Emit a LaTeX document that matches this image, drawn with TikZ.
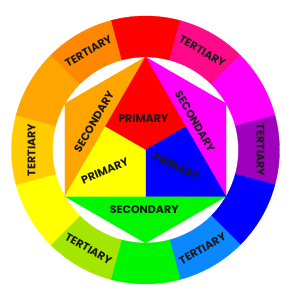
\documentclass[tikz,border=0pt]{standalone}
\usepackage{fontspec}
\usetikzlibrary{calc}
\setmainfont{Poppins}
\definecolor{cRed}{HTML}{FF0000}
\definecolor{cPink}{HTML}{FF0A88}
\definecolor{cMagenta}{HTML}{FF00FF}
\definecolor{cPurple}{HTML}{9E00BC}
\definecolor{cBlue}{HTML}{0000FF}
\definecolor{cAzure}{HTML}{0A88FF}
\definecolor{cGreen}{HTML}{00F500}
\definecolor{cLime}{HTML}{A5E600}
\definecolor{cYellow}{HTML}{FFFF00}
\definecolor{cGold}{HTML}{FFCC00}
\definecolor{cOrange}{HTML}{FFA500}
\definecolor{cRedOrange}{HTML}{FF8800}
\definecolor{cText}{HTML}{1A1A1A}
\tikzset{
  lbl/.style={text=cText, font=\fontsize{11}{13}\selectfont\bfseries, inner sep=0pt},
  seg/.style={fill=#1, draw=#1, line width=0.3pt},
}
\newcommand{\ringseg}[2]{%
  \fill[seg=#2] (#1-15:93) arc[start angle=#1-15, end angle=#1+15, radius=93]
    -- (#1+15:134) arc[start angle=#1+15, end angle=#1-15, radius=134] -- cycle;}
\begin{document}
\begin{tikzpicture}[x=1pt,y=1pt]
\useasboundingbox (-145.5,-146) rectangle (146.5,150);
\fill[white] (-145.5,-146) rectangle (146.5,150);
% ring
\ringseg{90}{cRed}
\ringseg{60}{cPink}
\ringseg{30}{cMagenta}
\ringseg{0}{cPurple}
\ringseg{-30}{cBlue}
\ringseg{-60}{cAzure}
\ringseg{-90}{cGreen}
\ringseg{-120}{cLime}
\ringseg{-150}{cYellow}
\ringseg{180}{cGold}
\ringseg{150}{cOrange}
\ringseg{120}{cRedOrange}
% hexagon points
\coordinate (T) at (90:93);
\coordinate (V30) at (30:93);
\coordinate (BR) at (-30:93);
\coordinate (VB) at (-90:93);
\coordinate (BL) at (210:93);
\coordinate (V150) at (150:93);
\coordinate (O) at (0,0);
\coordinate (MR) at ($(T)!0.5!(BR)$);
\coordinate (MB) at ($(BR)!0.5!(BL)$);
\coordinate (ML) at ($(BL)!0.5!(T)$);
% secondary triangles
\fill[seg=cMagenta] (T) -- (V30) -- (BR) -- cycle;
\fill[seg=cGreen] (BR) -- (VB) -- (BL) -- cycle;
\fill[seg=cOrange] (BL) -- (V150) -- (T) -- cycle;
% primary regions
\fill[seg=cRed] (T) -- (MR) -- (O) -- (ML) -- cycle;
\fill[seg=cBlue] (MR) -- (BR) -- (MB) -- (O) -- cycle;
\fill[seg=cYellow] (ML) -- (O) -- (MB) -- (BL) -- cycle;
% labels
\node[lbl] (pR) at (-2.2,31.5) {PRIMARY};
\node[lbl, rotate=23] (pY) at (-40.5,-21) {PRIMARY};
\node[lbl, rotate=-25] (pB) at (30.5,-16.7) {PRIMARY};
\node[lbl, rotate=60] (sO) at (-51.5,28.3) {SECONDARY};
\node[lbl, rotate=-60] (sM) at (49.5,28.3) {SECONDARY};
\node[lbl] (sG) at (-1.2,-60) {SECONDARY};
\node[lbl, rotate=30] (t120) at (120:114) {TERTIARY};
\node[lbl, rotate=-30] (t60) at (60:114) {TERTIARY};
\node[lbl, rotate=90] (t180) at (180:114) {TERTIARY};
\node[lbl, rotate=-90] (t0) at (0:115) {TERTIARY};
\node[lbl, rotate=-30] (t240) at (240:114) {TERTIARY};
\node[lbl, rotate=30] (t300) at (300:114) {TERTIARY};
\end{tikzpicture}
\end{document}
